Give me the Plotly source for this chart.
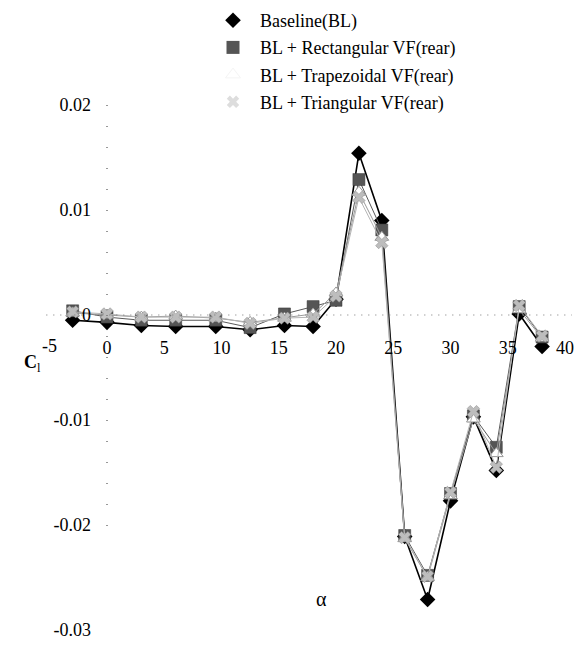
import plotly.graph_objects as go

# Angle of attack (deg)
alpha = [-3, 0, 3, 6, 9.5, 12.5, 15.5, 18, 20, 22, 24, 26, 28, 30, 32, 34, 36, 38]

# Lift coefficient per configuration
cl_baseline = [-0.0005, -0.0007, -0.0010, -0.0011, -0.0011, -0.0014, -0.0010, -0.0011, 0.0015,
               0.0154, 0.0090, -0.0211, -0.0271, -0.0177, -0.0097, -0.0148, 0.0001, -0.0030]
cl_rect = [0.0004, -0.0002, -0.0005, -0.0005, -0.0005, -0.0012, 0.0001, 0.0008, 0.0014,
           0.0129, 0.0081, -0.0210, -0.0248, -0.0170, -0.0096, -0.0126, 0.0008, -0.0021]
cl_trap = [0.0002, 0.0000, -0.0002, -0.0001, -0.0003, -0.0007, -0.0003, 0.0001, 0.0021,
           0.0117, 0.0074, -0.0213, -0.0250, -0.0172, -0.0099, -0.0132, 0.0005, -0.0022]
cl_tri = [0.0003, 0.0001, -0.0002, -0.0002, -0.0002, -0.0008, -0.0003, -0.0002, 0.0018,
          0.0112, 0.0069, -0.0212, -0.0249, -0.0169, -0.0092, -0.0145, 0.0009, -0.0020]

names = ["Baseline(BL)", "BL + Rectangular VF(rear)",
         "BL + Trapezoidal VF(rear)", "BL + Triangular VF(rear)"]

x_ticks = [-5, 0, 5, 10, 15, 20, 25, 30, 35, 40]
y_ticks = [-0.03, -0.02, -0.01, 0, 0.01, 0.02]
y_ticktext = ["-0.03", "-0.02", "-0.01", "0", "0.01", "0.02"]

FONT = "Liberation Serif"
W, H = 579, 647

styles = [
    dict(line=dict(color="black", width=1.6),
         marker=dict(symbol="diamond", size=12, color="black")),
    dict(line=dict(color="#5a5a5a", width=1),
         marker=dict(symbol="square", size=12, color="#555555",
                     line=dict(color="#333333", width=0.5))),
    dict(line=dict(color="#9a9a9a", width=1),
         marker=dict(symbol="triangle-up", size=12, color="white",
                     line=dict(color="#999999", width=1))),
    dict(line=dict(color="#b5b5b5", width=1),
         marker=dict(symbol="x", size=11, color="#bdbdbd",
                     line=dict(color="#888888", width=0.5))),
]
legend_markers = [
    dict(symbol="diamond", size=12, color="black"),
    dict(symbol="square", size=13, color="#555555"),
    dict(symbol="triangle-up", size=13, color="white", line=dict(color="#f4f4f4", width=1)),
    dict(symbol="x", size=11, color="#dddddd"),
]

fig = go.Figure()
series = [cl_baseline, cl_rect, cl_trap, cl_tri]
for name, ys, st in zip(names, series, styles):
    fig.add_trace(go.Scatter(x=alpha, y=ys, mode="lines+markers", name=name,
                             showlegend=False, **st))

# Marker-only legend entries
for i, (name, mk) in enumerate(zip(names, legend_markers)):
    fig.add_trace(go.Scatter(x=[None], y=[None], mode="markers", name=name,
                             marker=mk, legendgroup=f"g{i}", showlegend=True))

# Pixel layout of the axes
x0_px, px_per_deg = 107, 11.45
y0_px, px_per_unit = 315, 10500
x_range = [-x0_px / px_per_deg, (W - x0_px) / px_per_deg]
y_range = [-(H - y0_px) / px_per_unit, y0_px / px_per_unit]

# Dotted axis lines through the origin
fig.add_shape(type="line", xref="x", yref="y", x0=-5.3, x1=40.6, y0=0, y1=0,
              line=dict(color="#777777", width=1, dash="1px,6px"))
fig.add_shape(type="line", xref="x", yref="y", x0=0, x1=0, y0=0.02, y1=-0.021,
              line=dict(color="#777777", width=1.5, dash="1px,20px"))

# Plotly drops free-axis tick labels left of the crossing y axis,
# so the negative angle label is placed on the same scale as an annotation.
neg_ticks = [v for v in x_ticks if v < 0]
pos_ticks = [v for v in x_ticks if v >= 0]
tick_notes = [dict(text=str(v), xref="x", yref="y", x=v, y=0,
                   xanchor="center", yanchor="top", yshift=-19,
                   showarrow=False, font=dict(family=FONT, size=18))
              for v in neg_ticks]

fig.update_layout(
    width=W, height=H,
    margin=dict(l=0, r=0, t=0, b=0),
    paper_bgcolor="white", plot_bgcolor="white",
    font=dict(family=FONT, size=18, color="black"),
    showlegend=True,
    legend=dict(x=206 / W, y=1 - 2 / H, xanchor="left", yanchor="top",
                itemwidth=44, tracegroupgap=0.8, traceorder="grouped",
                bgcolor="rgba(0,0,0,0)", font=dict(family=FONT, size=18)),
    xaxis=dict(range=x_range, domain=[0, 1], anchor="free",
               position=1 - y0_px / H, showgrid=False, zeroline=False,
               showline=False, ticks="", tickvals=pos_ticks,
               ticktext=[str(v) for v in pos_ticks], ticklabelstandoff=20,
               ticklabeloverflow="allow", tickfont=dict(family=FONT, size=18)),
    yaxis=dict(range=y_range, domain=[0, 1], anchor="free",
               position=x0_px / W, showgrid=False, zeroline=False,
               showline=False, ticks="", tickvals=y_ticks, ticktext=y_ticktext,
               ticklabelstandoff=16, ticklabeloverflow="allow",
               tickfont=dict(family=FONT, size=18)),
    annotations=tick_notes + [
        dict(text="α", xref="paper", yref="paper", x=321 / W, y=1 - 612 / H,
             showarrow=False, font=dict(family=FONT, size=20)),
        dict(text="<b>C</b><sub>l</sub>", xref="paper", yref="paper",
             x=22 / W, y=1 - 363 / H, showarrow=False,
             font=dict(family=FONT, size=18)),
    ],
)

fig.write_html("out.html")
